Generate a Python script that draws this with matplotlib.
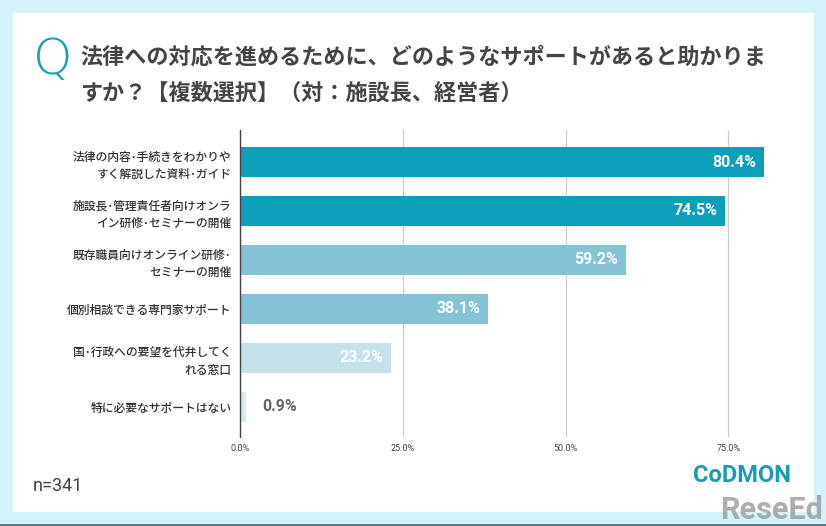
import matplotlib
matplotlib.use("Agg")
import matplotlib.pyplot as plt
from matplotlib.patches import Rectangle

plt.rcParams['font.family'] = ['Noto Sans CJK JP', 'DejaVu Sans']

# survey answers (top to bottom)
categories = [
    "法律の内容･手続きをわかりや\nすく解説した資料･ガイド",
    "施設長･管理責任者向けオンラ\nイン研修･セミナーの開催",
    "既存職員向けオンライン研修･\nセミナーの開催",
    "個別相談できる専門家サポート",
    "国･行政への要望を代弁してく\nれる窓口",
    "特に必要なサポートはない",
]
values = [80.4, 74.5, 59.2, 38.1, 23.2, 0.9]
bar_colors = ["#0b9ebd", "#0b9ebd", "#84c3d5", "#84c3d5", "#c3e2ea", "#d2e9f0"]
xticks = [0, 25, 50, 75]
xtick_labels = ["0.0%", "25.0%", "50.0%", "75.0%"]

title = "法律への対応を進めるために、どのようなサポートがあると助かりま\nすか？【複数選択】（対：施設長、経営者）"
sample = "n=341"

W, H = 826, 526
fig = plt.figure(figsize=(W / 100, H / 100), dpi=100)
fig.patch.set_facecolor("#d3f2fa")

# white panel
fig.patches.append(Rectangle((13 / W, 1 - 512 / H), (814 - 13) / W, (512 - 13) / H,
                             transform=fig.transFigure, facecolor="white",
                             edgecolor="none", zorder=0))
fig.patches.append(Rectangle((0, 0), 1, 2 / H, transform=fig.transFigure,
                             facecolor="#5b7f86", edgecolor="none", zorder=0))

ax = fig.add_axes([240 / W, 1 - 437 / H, 534 / W, 307 / H])
ax.set_zorder(2)
ax.set_facecolor("none")

ypos = list(range(len(categories)))
ax.barh(ypos, values, height=0.61, color=bar_colors, zorder=3)

for y, v in zip(ypos, values):
    if v > 5:
        ax.text(v - 1.2, y, f"{v:.1f}%", ha="right", va="center", color="white",
                fontsize=11.5, fontweight="bold", family="Roboto", zorder=4)
    else:
        ax.text(v + 2.5, y, f"{v:.1f}%", ha="left", va="center", color="#666666",
                fontsize=11.5, fontweight="bold", family="Roboto", zorder=4)

ax.set_xlim(0, 82)
ax.set_ylim(5.62, -0.654)
ax.set_yticks(ypos)
ax.set_yticklabels(categories, fontsize=8.5, color="#333333", linespacing=1.45,
                   fontweight="medium")
ax.set_xticks(xticks)
ax.set_xticklabels(xtick_labels, fontsize=6.5, color="#444444", family="Roboto")
ax.tick_params(axis="both", length=0)
ax.tick_params(axis="x", pad=5)
ax.tick_params(axis="y", pad=6)
ax.grid(axis="x", color="#cccccc", linewidth=0.9, zorder=0)
for s in ["top", "right", "bottom"]:
    ax.spines[s].set_visible(False)
ax.spines["left"].set_color("#444444")
ax.spines["left"].set_linewidth(1)
ax.spines["left"].set_zorder(5)

# title
fig.text(33 / W, 1 - 60 / H, "Q", fontsize=36, color="#1a9bb5", family="DejaVu Sans",
         fontweight="light", ha="left", va="center")
fig.text(80 / W, 1 - 75 / H, title, fontsize=15.9, color="#444444", fontweight="bold",
         ha="left", va="center", linespacing=1.7)

fig.text(33 / W, 1 - 486 / H, sample, fontsize=13, color="#444444", family="Roboto",
         ha="left", va="center")

# logo and watermark
fig.text(742 / W, 1 - 476 / H, "CoDMON", fontsize=17, color="#1a9bb5", fontweight="bold",
         family="Roboto", ha="center", va="center")
fig.text(772 / W, 1 - 510 / H, "ReseEd", fontsize=22, color="#9a9a9a", fontweight="bold",
         family="Roboto", ha="center", va="center", alpha=0.8)

fig.savefig("out.png", dpi=100)
